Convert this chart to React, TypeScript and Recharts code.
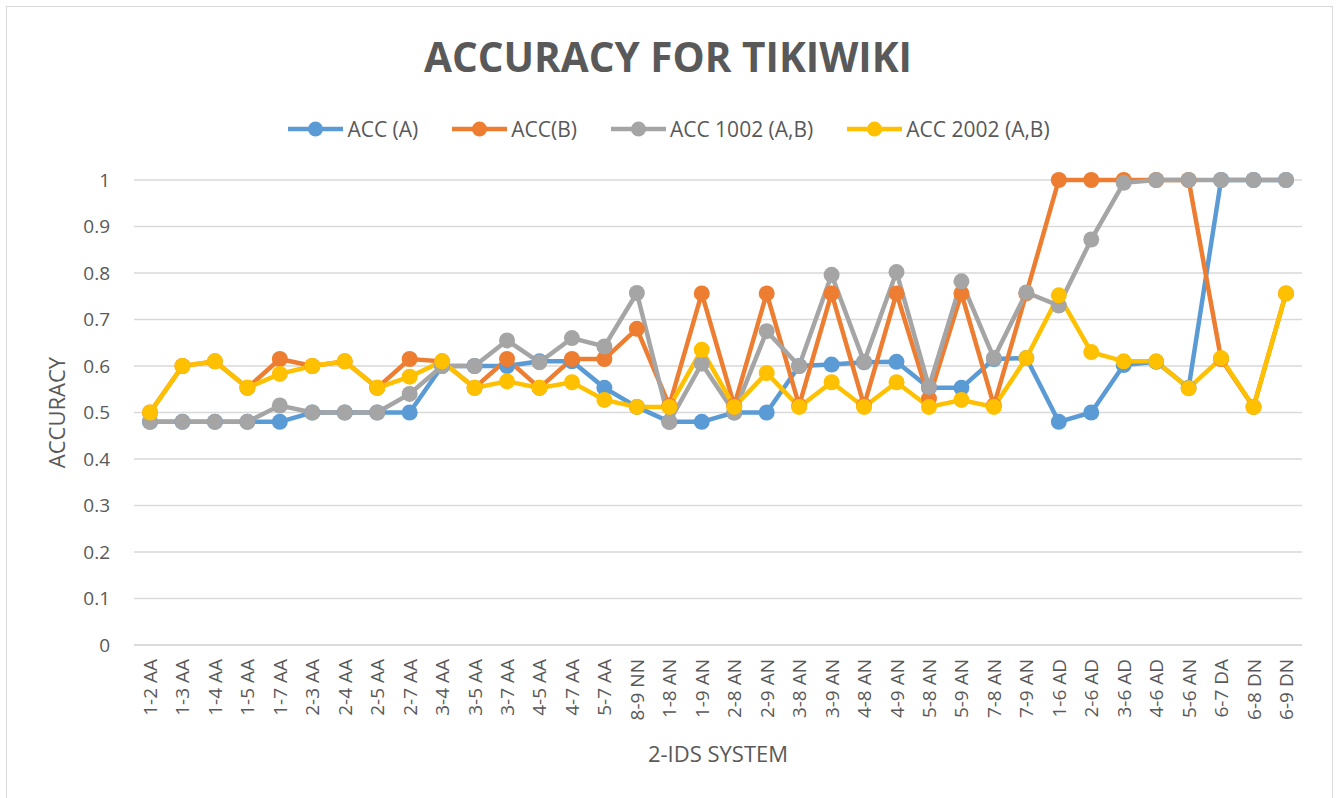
import { LineChart, Line, XAxis, YAxis, CartesianGrid, Legend, Label } from "recharts";

const categories = [
  "1-2 AA", "1-3 AA", "1-4 AA", "1-5 AA", "1-7 AA", "2-3 AA", "2-4 AA", "2-5 AA", "2-7 AA",
  "3-4 AA", "3-5 AA", "3-7 AA", "4-5 AA", "4-7 AA", "5-7 AA", "8-9 NN", "1-8 AN", "1-9 AN",
  "2-8 AN", "2-9 AN", "3-8 AN", "3-9 AN", "4-8 AN", "4-9 AN", "5-8 AN", "5-9 AN", "7-8 AN",
  "7-9 AN", "1-6 AD", "2-6 AD", "3-6 AD", "4-6 AD", "5-6 AN", "6-7 DA", "6-8 DN", "6-9 DN",
];

const accA = [
  0.48, 0.48, 0.48, 0.48, 0.48, 0.5, 0.5, 0.5, 0.5,
  0.6, 0.6, 0.6, 0.61, 0.61, 0.553, 0.512, 0.48, 0.48,
  0.5, 0.5, 0.6, 0.603, 0.608, 0.609, 0.553, 0.553, 0.615,
  0.617, 0.48, 0.5, 0.602, 0.609, 0.553, 1, 1, 1,
];

const accB = [
  0.5, 0.6, 0.61, 0.553, 0.615, 0.6, 0.61, 0.553, 0.615,
  0.61, 0.553, 0.615, 0.553, 0.615, 0.615, 0.68, 0.515, 0.756,
  0.515, 0.756, 0.515, 0.756, 0.515, 0.756, 0.53, 0.756, 0.515,
  0.756, 1, 1, 1, 1, 1, 0.615, 0.512, 0.756,
];

const acc1002 = [
  0.48, 0.48, 0.48, 0.48, 0.515, 0.5, 0.5, 0.5, 0.54,
  0.6, 0.6, 0.655, 0.608, 0.66, 0.642, 0.757, 0.48, 0.605,
  0.5, 0.675, 0.6, 0.796, 0.609, 0.802, 0.555, 0.782, 0.617,
  0.758, 0.73, 0.872, 0.994, 1, 1, 1, 1, 1,
];

const acc2002 = [
  0.5, 0.6, 0.61, 0.553, 0.583, 0.6, 0.61, 0.553, 0.577,
  0.61, 0.553, 0.567, 0.553, 0.565, 0.527, 0.512, 0.512, 0.635,
  0.512, 0.585, 0.512, 0.565, 0.512, 0.565, 0.512, 0.527, 0.512,
  0.617, 0.752, 0.63, 0.61, 0.61, 0.552, 0.617, 0.512, 0.756,
];

const yTicks = [0, 0.1, 0.2, 0.3, 0.4, 0.5, 0.6, 0.7, 0.8, 0.9, 1];

const series = [
  { key: "accA", label: "ACC (A)", color: "#5B9BD5" },
  { key: "accB", label: "ACC(B)", color: "#ED7D31" },
  { key: "acc1002", label: "ACC 1002 (A,B)", color: "#A5A5A5" },
  { key: "acc2002", label: "ACC 2002 (A,B)", color: "#FFC000" },
];

const data = categories.map((name, i) => ({
  name,
  accA: accA[i],
  accB: accB[i],
  acc1002: acc1002[i],
  acc2002: acc2002[i],
}));

const FONT = "'Open Sans', sans-serif";
const TEXT = "#595959";

function XTick({ x, y, payload }: any) {
  return (
    <text
      x={x}
      y={y + 6}
      transform={`rotate(-90, ${x}, ${y + 6})`}
      textAnchor="end"
      dominantBaseline="central"
      fill={TEXT}
      fontSize={19}
      fontFamily={FONT}
    >
      {payload.value}
    </text>
  );
}

function LegendContent() {
  return (
    <div style={{ display: "flex", justifyContent: "center", alignItems: "center", fontFamily: FONT }}>
      {series.map((s, i) => (
        <div
          key={s.key}
          style={{ display: "flex", alignItems: "center", marginRight: i < series.length - 1 ? 34 : 0 }}
        >
          <svg width={55} height={18}>
            <line x1={0} y1={9} x2={55} y2={9} stroke={s.color} strokeWidth={4.5} />
            <circle cx={27.5} cy={9} r={7.5} fill={s.color} />
          </svg>
          <span style={{ fontSize: 21, color: TEXT, marginLeft: 4 }}>{s.label}</span>
        </div>
      ))}
    </div>
  );
}

export default function App() {
  return (
    <div style={{ position: "absolute", left: 0, top: 0, width: 1338, height: 798, background: "#fff" }}>
      <div
        style={{
          position: "absolute",
          left: 6,
          top: 6,
          width: 1327,
          height: 800,
          border: "1.5px solid #D9D9D9",
          boxSizing: "border-box",
        }}
      />
      <svg style={{ position: "absolute", left: 0, top: 0 }} width={1338} height={100}>
        <text
          x={668}
          y={72}
          textAnchor="middle"
          fontFamily={FONT}
          fontWeight="bold"
          fontSize={42}
          fill={TEXT}
          textLength={488}
          lengthAdjust="spacingAndGlyphs"
        >
          ACCURACY FOR TIKIWIKI
        </text>
      </svg>
      <div style={{ position: "absolute", left: 0, top: 0 }}>
        <LineChart
          width={1338}
          height={798}
          data={data}
          margin={{ top: 180, right: 36, bottom: 0, left: 0 }}
          style={{ fontFamily: FONT }}
        >
          <CartesianGrid vertical={false} stroke="#D9D9D9" strokeWidth={1.5} />
          <XAxis
            dataKey="name"
            interval={0}
            height={153}
            padding={{ left: 16, right: 16 }}
            tick={<XTick />}
            tickLine={false}
            axisLine={{ stroke: "#D9D9D9", strokeWidth: 1.5 }}
          >
            <Label
              value="2-IDS SYSTEM"
              position="insideBottom"
              offset={36}
              fill={TEXT}
              fontSize={22}
              fontFamily={FONT}
            />
          </XAxis>
          <YAxis
            width={134}
            domain={[0, 1]}
            ticks={yTicks}
            interval={0}
            tickLine={false}
            axisLine={false}
            tickSize={0}
            tickMargin={24}
            tick={{ fill: TEXT, fontSize: 19, fontFamily: FONT }}
          >
            <Label
              value="ACCURACY"
              angle={-90}
              position="insideLeft"
              offset={57}
              fill={TEXT}
              fontSize={22}
              fontFamily={FONT}
              style={{ textAnchor: "middle" }}
            />
          </YAxis>
          <Legend
            layout="horizontal"
            verticalAlign="middle"
            align="center"
            content={<LegendContent />}
            wrapperStyle={{ top: 115, left: 0, width: 1338 }}
          />
          {series.map((s) => (
            <Line
              key={s.key}
              type="linear"
              dataKey={s.key}
              name={s.label}
              stroke={s.color}
              strokeWidth={4.5}
              dot={{ r: 8, fill: s.color, stroke: s.color, strokeWidth: 0 }}
              activeDot={false}
              isAnimationActive={false}
            />
          ))}
        </LineChart>
      </div>
    </div>
  );
}
